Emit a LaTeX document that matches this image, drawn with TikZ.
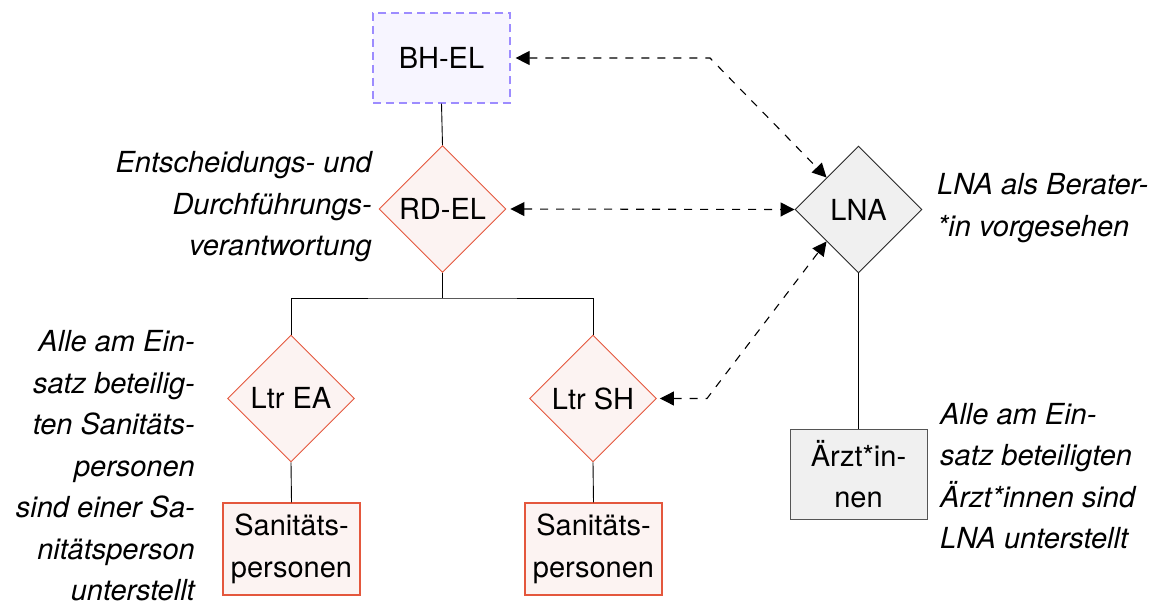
\documentclass[tikz,border=0pt]{standalone}
\usepackage{fontspec}
\setmainfont{TeX Gyre Heros}
\usetikzlibrary{shapes.geometric,arrows.meta}
\definecolor{vio}{HTML}{9D8CFF}
\definecolor{viofill}{HTML}{F7F5FF}
\definecolor{org}{HTML}{E4573D}
\definecolor{orgfill}{HTML}{FCF3F2}
\definecolor{grayfill}{HTML}{F0F0F0}
\definecolor{grayline}{HTML}{555555}
\tikzset{
  txt/.style={font=\fontsize{29}{41.5}\selectfont},
  lbl/.style={txt, font=\fontsize{29}{41.5}\selectfont\itshape, inner sep=0pt},
  dia/.style={diamond, aspect=1, minimum width=127pt, minimum height=127pt, inner sep=0pt, txt, line width=0.9pt},
  reddia/.style={dia, draw=org, fill=orgfill},
  redbox/.style={rectangle, draw=org, fill=orgfill, line width=1.2pt, minimum width=137pt, minimum height=92pt, txt, align=center, inner sep=0pt},
  conn/.style={line width=0.9pt, draw=black},
  darr/.style={line width=1.1pt, dash pattern=on 8pt off 8pt, {Triangle[length=14pt,width=14pt]}-{Triangle[length=14pt,width=14pt]}, shorten <=2pt},
}
\begin{document}
\begin{tikzpicture}[x=1pt,y=-1pt]
\useasboundingbox (0,0) rectangle (1170,605);
% nodes
\node[rectangle, draw=vio, fill=viofill, dash pattern=on 8pt off 5pt, line width=1.2pt, minimum width=137pt, minimum height=90pt, txt] (bhel) at (441.5,58) {BH-EL};
\node[reddia] (rdel) at (442.5,209) {RD-EL};
\node[reddia] (ea) at (291,398.5) {Ltr EA};
\node[reddia] (sh) at (593,398.5) {Ltr SH};
\node[redbox] (sp1) at (291.5,549) {Sanitäts-\\personen};
\node[redbox] (sp2) at (593.5,549) {Sanitäts-\\personen};
\node[dia, draw=black!85, fill=grayfill] (lna) at (858.5,209.5) {LNA};
\node[rectangle, draw=grayline, fill=grayfill, line width=1pt, minimum width=137pt, minimum height=90pt, txt, align=center, inner sep=0pt] (arzt) at (858.5,474) {Ärzt*in-\\nen};
% labels
\node[lbl, align=right, anchor=east] (l1) at (372,207) {Entscheidungs- und\\Durchführungs-\\verantwortung};
\node[lbl, align=right, anchor=east] (l2) at (195,466) {Alle am Ein-\\satz beteilig-\\ten Sanitäts-\\personen\\sind einer Sa-\\nitätsperson\\unterstellt};
\node[lbl, align=left, anchor=west] (l3) at (937,208) {LNA als Berater-\\*in vorgesehen};
\node[lbl, align=left, anchor=west] (l4) at (940,476) {Alle am Ein-\\satz beteiligten\\Ärzt*innen sind\\LNA unterstellt};
% coordinates
\coordinate (j1) at (442.5,298);
\coordinate (bend1) at (710,58);
\coordinate (bend2) at (707,398.5);
% solid connectors
\draw[conn] (bhel.south) -- (rdel.north);
\draw[conn] (rdel.south) -- (j1);
\draw[conn] (ea.north) |- (j1) -| (sh.north);
\draw[conn] (ea.south) -- (sp1.north);
\draw[conn] (sh.south) -- (sp2.north);
\draw[conn] (lna.south) -- (arzt.north);
% dashed arrows
\draw[darr] ([xshift=3pt]bhel.east) -- (bend1) -- (lna.north west);
\draw[darr] ([xshift=2pt]rdel.east) -- (lna.west);
\draw[darr] ([xshift=1pt]sh.east) -- (bend2) -- (lna.south west);
\end{tikzpicture}
\end{document}
